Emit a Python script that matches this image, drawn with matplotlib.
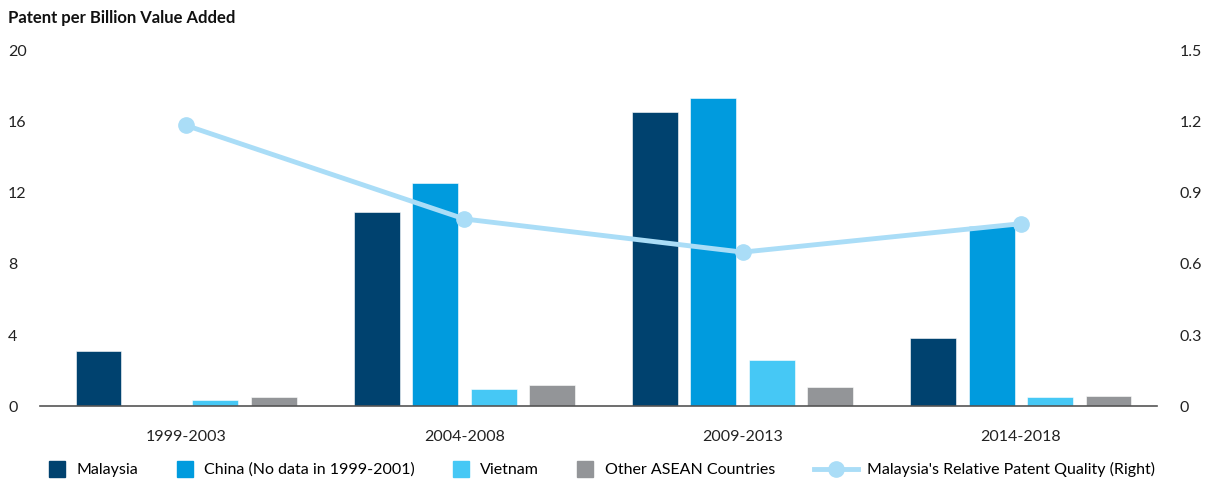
import numpy as np
import matplotlib
matplotlib.use('Agg')
import matplotlib.pyplot as plt
from matplotlib.lines import Line2D

# --- DATA ---
periods  = ['1999-2003', '2004-2008', '2009-2013', '2014-2018']
malaysia = [3.1, 10.9, 16.55, 3.85]
china    = [0.0, 12.55, 17.35, 10.15]
vietnam  = [0.35, 0.95, 2.6, 0.5]
other    = [0.5, 1.2, 1.05, 0.55]
quality  = [1.185, 0.79, 0.65, 0.77]   # right axis

series_names = ['Malaysia', 'China (No data in 1999-2001)', 'Vietnam', 'Other ASEAN Countries']
line_name = "Malaysia's Relative Patent Quality (Right)"
colors = ['#00426F', '#009BDE', '#46C8F5', '#939598']
line_color = '#AADDF7'
# ------------

plt.rcParams['font.family'] = ['Lato', 'DejaVu Sans']

fig = plt.figure(figsize=(12.13, 4.84), dpi=100)
ax = fig.add_axes([0.033, 0.161, 0.921, 0.734])

x = np.arange(len(periods))
width = 0.165
pitch = 0.21
offsets = (np.arange(4) - 1.5) * pitch
for vals, off, col in zip([malaysia, china, vietnam, other], offsets, colors):
    ax.bar(x + off, vals, width, color=col, edgecolor='white', linewidth=0.4, zorder=2)

ax.set_ylim(0, 20)
ax.set_yticks([0, 4, 8, 12, 16, 20])
ax.set_xlim(-0.525, 3.49)
ax.set_xticks(x)
ax.set_xticklabels(periods)

for s in ['top', 'right', 'left']:
    ax.spines[s].set_visible(False)
ax.spines['bottom'].set_color('#555555')
ax.spines['bottom'].set_linewidth(1.2)
ax.tick_params(axis='y', length=0, pad=23, labelsize=11.5, colors='#222222')
for lab in ax.get_yticklabels():
    lab.set_horizontalalignment('left')
ax.tick_params(axis='x', length=0, pad=17, labelsize=11.5, colors='#222222')

ax2 = ax.twinx()
ax2.plot(x, quality, color=line_color, lw=3.5, marker='o', ms=11, zorder=3)
ax2.set_ylim(0, 1.5)
ax2.set_yticks([0, 0.3, 0.6, 0.9, 1.2, 1.5])
ax2.set_yticklabels(['0', '0.3', '0.6', '0.9', '1.2', '1.5'])
for s in ['top', 'right', 'left', 'bottom']:
    ax2.spines[s].set_visible(False)
ax2.tick_params(axis='y', length=0, pad=16, labelsize=11.5, colors='#222222')

fig.text(0.007, 0.963, 'Patent per Billion Value Added', fontsize=12,
         fontweight='bold', color='#111111', va='center')

# legend: bar entries
handles = [Line2D([], [], marker='s', ls='none', ms=11, color=c) for c in colors]
leg1 = fig.legend(handles, series_names, loc='center left', ncol=4,
                  bbox_to_anchor=(0.041, 0.029), frameon=False, fontsize=11.5,
                  handlelength=0.95, columnspacing=2.4, handletextpad=0.75,
                  borderpad=0, borderaxespad=0)
# legend: line entry
lh = Line2D([], [], color=line_color, lw=3.5, marker='o', ms=11)
fig.legend([lh], [line_name], loc='center left',
           bbox_to_anchor=(0.671, 0.029), frameon=False, fontsize=11.5,
           handlelength=2.75, handletextpad=0.6, borderpad=0, borderaxespad=0)

fig.savefig('out.png', dpi=100)
